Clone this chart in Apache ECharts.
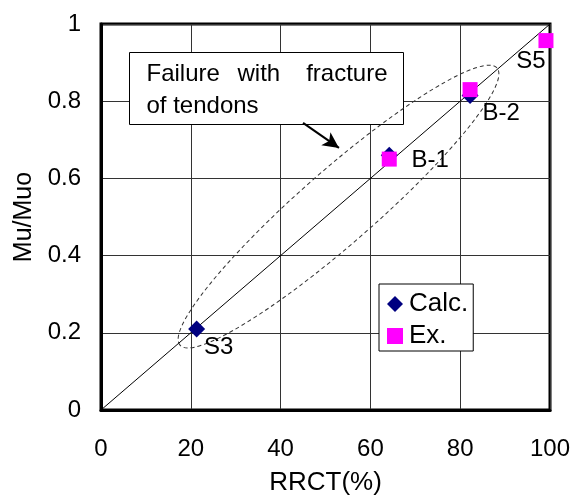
<!DOCTYPE html>
<html>
<head>
<meta charset="utf-8">
<script src="https://cdn.jsdelivr.net/npm/echarts@6/dist/echarts.min.js"></script>
<style>
  html, body { margin: 0; padding: 0; background: #fff; }
  #chart { width: 572px; height: 498px; }
</style>
</head>
<body>
<div id="chart"></div>
<script>
// values
var xTicks = [0, 20, 40, 60, 80, 100];
var yTicks = [0, 0.2, 0.4, 0.6, 0.8, 1];

var calcNames = ['S3', 'B-1', 'B-2'];
var calcX = [21.3, 64.2, 82.2];
var calcY = [0.21, 0.66, 0.815];

var exNames = ['B-1', 'B-2', 'S5'];
var exX = [64.2, 82.2, 99.1];
var exY = [0.65, 0.83, 0.957];

// 1:1 reference line
var refLine = [[0, 0], [100, 1]];

// dashed ellipse ends and annotation arrow (data units)
var ellipseEnds = [[17.6, 0.168], [88.2, 0.886]];
var arrowFrom = [45.0, 0.744];
var arrowTo = [53.0, 0.679];

var font = 'Liberation Sans, Arial, sans-serif';

// where each specimen label sits relative to its mark
var labelOffsets = {
    'S3': [22, 18],
    'B-1': [41, 1],
    'B-2': [31, 24],
    'S5': [-15, 21]
};

function pts(xs, ys, names, labelled) {
    return xs.map(function (x, i) {
        var item = { value: [x, ys[i]], name: names[i] };
        if (labelled.indexOf(names[i]) >= 0) {
            item.label = {
                show: true,
                position: 'inside',
                offset: labelOffsets[names[i]],
                formatter: names[i],
                color: '#000',
                opacity: 1,
                textBorderWidth: 0,
                fontSize: 24,
                fontFamily: font
            };
        }
        return item;
    });
}

var chart = echarts.init(document.getElementById('chart'));

var option = {
    animation: false,
    backgroundColor: '#fff',
    grid: {
        left: 101,
        right: 22,
        top: 24,
        bottom: 88,
        outerBoundsMode: 'none',
        containLabel: false,
        show: true,
        borderColor: '#000',
        borderWidth: 3
    },
    legend: {
        left: 379,
        top: 284,
        orient: 'vertical',
        backgroundColor: '#fff',
        borderColor: '#000',
        borderWidth: 1,
        borderRadius: 0,
        padding: [7, 5, 2, 8],
        itemWidth: 16,
        itemHeight: 16,
        itemGap: 6,
        textStyle: { fontSize: 26, fontFamily: font, color: '#000', padding: [0, 0, 0, 1] },
        data: [
            { name: 'Calc.', icon: 'diamond' },
            { name: 'Ex.', icon: 'rect' }
        ]
    },
    xAxis: {
        type: 'value',
        min: 0,
        max: 100,
        interval: 20,
        name: 'RRCT(%)',
        nameLocation: 'middle',
        nameGap: 60,
        nameTextStyle: { fontSize: 26, fontFamily: font, color: '#000' },
        axisLine: { show: true, lineStyle: { color: '#000', width: 3 } },
        axisTick: { show: false },
        axisLabel: { fontSize: 24, fontFamily: font, color: '#000', margin: 27 },
        splitLine: { show: true, lineStyle: { color: '#333', width: 1 } }
    },
    yAxis: {
        type: 'value',
        min: 0,
        max: 1,
        interval: 0.2,
        name: 'Mu/Muo',
        nameLocation: 'middle',
        nameGap: 63,
        nameTextStyle: { fontSize: 25, fontFamily: font, color: '#000' },
        axisLine: { show: true, lineStyle: { color: '#000', width: 3 } },
        axisTick: { show: false },
        axisLabel: {
            fontSize: 24, fontFamily: font, color: '#000', margin: 20,
            formatter: function (v) { return yTicks.indexOf(v) >= 0 ? String(v) : ''; }
        },
        splitLine: { show: true, lineStyle: { color: '#333', width: 1 } }
    },
    series: [
        {
            type: 'line',
            data: refLine,
            symbol: 'none',
            lineStyle: { color: '#000', width: 1 },
            silent: true,
            z: 2,
            markLine: {
                silent: true,
                symbol: ['none', 'arrow'],
                symbolSize: [12, 16],
                label: { show: false },
                lineStyle: { color: '#000', width: 2, type: 'solid' },
                data: [[{ coord: arrowFrom }, { coord: arrowTo }]]
            }
        },
        {
            name: 'Calc.',
            type: 'scatter',
            symbol: 'diamond',
            symbolSize: 17,
            itemStyle: { color: '#000080', opacity: 1 },
            data: pts(calcX, calcY, calcNames, ['S3']),
            z: 4
        },
        {
            name: 'Ex.',
            type: 'scatter',
            symbol: 'rect',
            symbolSize: 15,
            itemStyle: { color: '#ff00ff', opacity: 1 },
            data: pts(exX, exY, exNames, ['B-1', 'B-2', 'S5']),
            z: 5
        }
    ]
};

chart.setOption(option);

// dashed ellipse and the annotation box, placed from the axes
var p1 = chart.convertToPixel({ gridIndex: 0 }, ellipseEnds[0]);
var p2 = chart.convertToPixel({ gridIndex: 0 }, ellipseEnds[1]);
var dx = p2[0] - p1[0];
var dy = p2[1] - p1[1];
var semiMajor = Math.sqrt(dx * dx + dy * dy) / 2;
var angle = Math.atan2(-dy, dx);

var boxText = { font: '24px ' + font, fill: '#000', verticalAlign: 'top' };

chart.setOption({
    graphic: [
        {
            type: 'ellipse',
            x: (p1[0] + p2[0]) / 2,
            y: (p1[1] + p2[1]) / 2,
            rotation: angle,
            shape: { cx: 0, cy: 0, rx: semiMajor, ry: 37 },
            style: { fill: 'none', stroke: '#333', lineWidth: 1, lineDash: [4, 3] },
            z: 3,
            silent: true
        },
        {
            type: 'group',
            left: 129,
            top: 52,
            z: 10,
            children: [
                {
                    type: 'rect',
                    shape: { x: 0, y: 0, width: 274, height: 72 },
                    style: { fill: '#fff', stroke: '#000', lineWidth: 1 }
                },
                { type: 'text', x: 17, y: 10, style: Object.assign({ text: 'Failure' }, boxText) },
                { type: 'text', x: 108, y: 10, style: Object.assign({ text: 'with' }, boxText) },
                { type: 'text', x: 258, y: 10, style: Object.assign({ text: 'fracture', align: 'right' }, boxText) },
                { type: 'text', x: 17, y: 42, style: Object.assign({ text: 'of tendons' }, boxText) }
            ]
        }
    ]
});
</script>
</body>
</html>
